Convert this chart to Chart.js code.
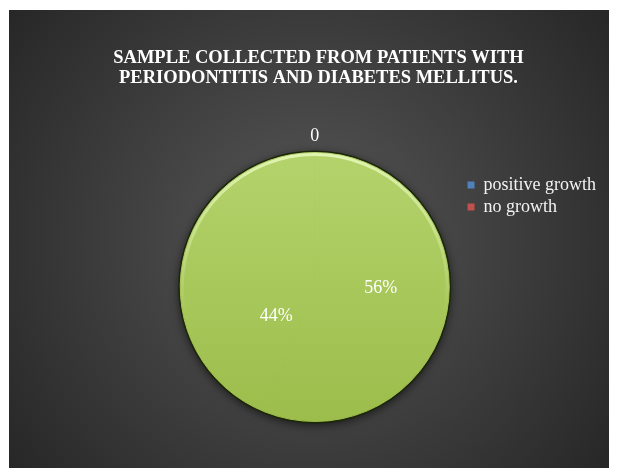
<!DOCTYPE html>
<html>
<head>
<meta charset="utf-8">
<script src="https://cdn.jsdelivr.net/npm/chart.js@4.4.1/dist/chart.umd.min.js"></script>
<style>
    html, body { margin: 0; padding: 0; background: #fff; }
    #frame { position: absolute; left: 9px; top: 10px; width: 600px; height: 458px; }
</style>
</head>
<body>
<div id="frame"><canvas id="chart"></canvas></div>
<script>
const categories = ['positive growth', 'no growth']
const legendColours = ['#4f81bd', '#c0504d']
const sliceValues = [0, 56, 44]
const sliceText = ['0', '56%', '44%']
const chartTitle = ['SAMPLE COLLECTED FROM PATIENTS WITH', 'PERIODONTITIS AND DIABETES MELLITUS.']

const serif = "'Liberation Serif', 'Times New Roman', serif"

// grey radial backdrop (office style)
const backdrop = {
    id: 'backdrop',
    beforeDraw(chart) {
        let { ctx, width, height } = chart
        let g = ctx.createRadialGradient(width * 0.5, height * 0.5, 0, width * 0.5, height * 0.5, width * 0.68)
        g.addColorStop(0, '#575757')
        g.addColorStop(1, '#232323')
        ctx.save()
        ctx.fillStyle = g
        ctx.fillRect(0, 0, width, height)
        ctx.restore()
    }
}

// empty box on the left so the pie sits where the original has it
const leftGap = {
    id: 'leftGap',
    beforeInit(chart) {
        Chart.layouts.addBox(chart, {
            position: 'left',
            fullSize: false,
            weight: 0,
            options: {},
            isHorizontal() { return false },
            update(maxWidth, maxHeight) {
                this.width = 135
                this.height = maxHeight
            },
            draw() {}
        })
    }
}

// dark rim + shadow under the pie, light bevel on top
const pieRim = {
    id: 'pieRim',
    beforeDatasetsDraw(chart) {
        let arc = chart.getDatasetMeta(0).data[0]
        if (!arc) return
        let { ctx } = chart
        ctx.save()
        ctx.shadowColor = 'rgba(0,0,0,0.55)'
        ctx.shadowBlur = 8
        ctx.shadowOffsetY = 2
        ctx.fillStyle = '#1c2609'
        ctx.beginPath()
        ctx.arc(arc.x, arc.y, arc.outerRadius + 2, 0, Math.PI * 2)
        ctx.fill()
        ctx.restore()
    },
    afterDatasetsDraw(chart) {
        let arc = chart.getDatasetMeta(0).data[0]
        if (!arc) return
        let { ctx } = chart
        let r = arc.outerRadius
        let g = ctx.createLinearGradient(0, arc.y - r, 0, arc.y + r * 0.2)
        g.addColorStop(0, 'rgba(240,255,200,0.75)')
        g.addColorStop(1, 'rgba(240,255,200,0)')
        ctx.save()
        ctx.lineWidth = 3
        ctx.strokeStyle = g
        ctx.beginPath()
        ctx.arc(arc.x, arc.y, r - 2, 0, Math.PI * 2)
        ctx.stroke()
        ctx.restore()
    }
}

// data labels placed from each slice's angle
const sliceLabels = {
    id: 'sliceLabels',
    afterDatasetsDraw(chart, args, opts) {
        let { ctx } = chart
        let meta = chart.getDatasetMeta(0)
        ctx.save()
        ctx.font = `18px ${serif}`
        ctx.fillStyle = '#ffffff'
        ctx.textAlign = 'center'
        ctx.textBaseline = 'middle'
        meta.data.forEach((arc, i) => {
            let { x, y, startAngle, endAngle, outerRadius } = arc.getProps(['x', 'y', 'startAngle', 'endAngle', 'outerRadius'], true)
            let a = (startAngle + endAngle) / 2 + (opts.shift[i] || 0) * Math.PI / 180
            let d = outerRadius * opts.reach[i]
            ctx.fillText(sliceText[i], x + Math.cos(a) * d, y + Math.sin(a) * d)
        })
        ctx.restore()
    }
}

let greenFill = (c) => {
    let area = c.chart.chartArea
    if (!area) return '#a8c85a'
    let g = c.chart.ctx.createLinearGradient(0, area.top, 0, area.bottom)
    g.addColorStop(0, '#b4d36c')
    g.addColorStop(1, '#9cbd4b')
    return g
}

const config = {
    type: 'pie',
    data: {
        labels: sliceText,
        datasets: [{
            data: sliceValues,
            backgroundColor: greenFill,
            borderColor: greenFill,
            borderWidth: 1
        }]
    },
    options: {
        responsive: true,
        maintainAspectRatio: false,
        animation: false,
        layout: { padding: { left: 22, right: 3, top: 0, bottom: 46 } },
        plugins: {
            tooltip: { enabled: false },
            title: {
                display: true,
                text: chartTitle,
                color: '#ffffff',
                font: { family: serif, size: 18.5, weight: 'bold', lineHeight: 20 / 18.5 },
                padding: { top: 38, bottom: 64 }
            },
            legend: {
                position: 'right',
                align: 'start',
                fullSize: false,
                title: { display: true, text: '', font: { size: 10 }, padding: { top: 8, bottom: 0 } },
                labels: {
                    boxWidth: 7,
                    boxHeight: 7,
                    padding: 4,
                    color: '#f2f2f2',
                    font: { family: serif, size: 18 },
                    generateLabels: () => categories.map((c, i) => ({
                        text: c,
                        fillStyle: legendColours[i],
                        strokeStyle: legendColours[i],
                        lineWidth: 0,
                        hidden: false,
                        index: i,
                        fontColor: '#f2f2f2'
                    }))
                }
            },
            sliceLabels: {
                shift: [0, -10, -48],
                reach: [1.12, 0.49, 0.36]
            }
        }
    },
    plugins: [backdrop, leftGap, pieRim, sliceLabels]
}

new Chart(document.getElementById('chart'), config)
</script>
</body>
</html>
